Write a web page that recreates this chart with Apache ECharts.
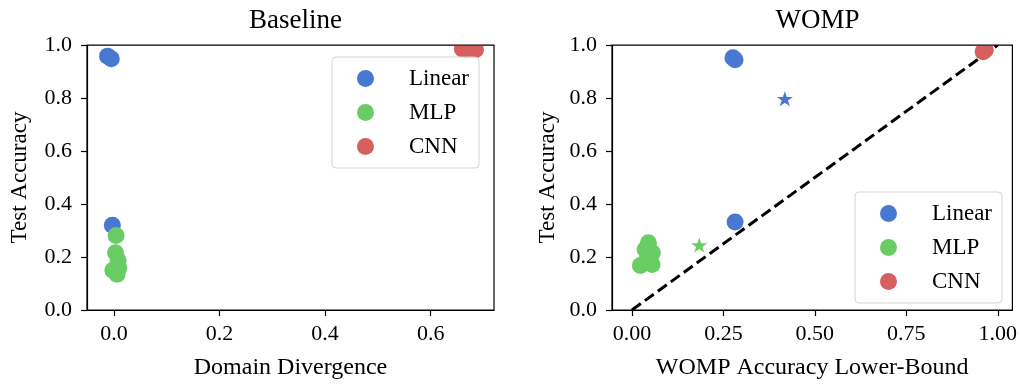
<!DOCTYPE html>
<html>
<head>
<meta charset="utf-8">
<script src="https://cdn.jsdelivr.net/npm/echarts@6/dist/echarts.min.js"></script>
<style>html,body{margin:0;padding:0;background:#fff}#c{width:1020px;height:385px}</style>
</head>
<body>
<div id="c"></div>
<script>
// ---- Data ----
const seriesNames = ['Linear', 'MLP', 'CNN'];
// Baseline panel: x = Domain Divergence, y = Test Accuracy
const baseLinearX = [-0.012, -0.005, -0.003];
const baseLinearY = [0.958, 0.948, 0.320];
const baseMlpX = [0.004, 0.003, 0.008, -0.002, 0.006, 0.009];
const baseMlpY = [0.281, 0.216, 0.187, 0.150, 0.135, 0.158];
const baseCnnX = [0.660, 0.668, 0.675, 0.680, 0.685];
const baseCnnY = [0.985, 0.980, 0.990, 0.985, 0.982];
// WOMP panel: x = WOMP Accuracy Lower-Bound, y = Test Accuracy
const wompLinearX = [0.276, 0.282, 0.282];
const wompLinearY = [0.952, 0.944, 0.332];
const wompLinearStarX = [0.418];
const wompLinearStarY = [0.797];
const wompMlpX = [0.045, 0.056, 0.023, 0.055, 0.042, 0.036];
const wompMlpY = [0.254, 0.216, 0.168, 0.172, 0.194, 0.228];
const wompMlpStarX = [0.184];
const wompMlpStarY = [0.245];
const wompCnnX = [0.960, 0.966];
const wompCnnY = [0.975, 0.981];
const diagX = [0, 1];
const diagY = [0, 1];
// Tick labels
const baseXTicks = [0, 0.2, 0.4, 0.6];
const wompXTicks = [0, 0.25, 0.5, 0.75, 1.0];

// ---- Styling ----
const FONT = 'Liberation Serif';
const colors = {Linear: '#4878d0', MLP: '#6acc64', CNN: '#d65f5f'};
const STAR = 'path://M50,0 L61.8,35.1 L98.9,35.1 L69.1,57 L80.9,91.9 L50,70.5 L19.1,91.9 L30.9,57 L1.1,35.1 L38.2,35.1 Z';
const zip = (xs, ys) => xs.map((x, i) => [x, ys[i]]);

const G1 = {left: 87, top: 45, width: 407, height: 268};
const G2 = {left: 612, top: 45, width: 401, height: 268};

function xAxisCfg(gi, min, max, ticks, dec, name) {
  return {
    type: 'value', gridIndex: gi, min: min, max: max,
    name: name, nameLocation: 'middle', nameGap: 46,
    nameTextStyle: {fontFamily: FONT, fontSize: 24, color: '#000'},
    axisLine: {show: true, onZero: false, lineStyle: {color: '#000', width: 1.2}},
    axisTick: {show: true, inside: false, length: 6, lineStyle: {color: '#000', width: 1.2}, customValues: ticks},
    axisLabel: {fontFamily: FONT, fontSize: 22, color: '#000', margin: 13, customValues: ticks,
      formatter: v => v.toFixed(dec)},
    splitLine: {show: false}
  };
}
function yAxisCfg(gi, gap) {
  return {
    type: 'value', gridIndex: gi, min: 0, max: 1, interval: 0.2,
    name: 'Test Accuracy', nameLocation: 'middle', nameGap: gap,
    nameTextStyle: {fontFamily: FONT, fontSize: 23, color: '#000'},
    axisLine: {show: true, onZero: false, lineStyle: {color: '#000', width: 1.2}},
    axisTick: {show: true, inside: false, length: 6, lineStyle: {color: '#000', width: 1.2}},
    axisLabel: {fontFamily: FONT, fontSize: 22, color: '#000', margin: 15, formatter: v => v.toFixed(1)},
    splitLine: {show: false}
  };
}
function scatter(name, xi, data, symbol, size) {
  return {
    type: 'scatter', name: name, xAxisIndex: xi, yAxisIndex: xi,
    data: data, symbol: symbol || 'circle', symbolSize: size || 17, symbolKeepAspect: true,
    itemStyle: {color: colors[name], opacity: 1}, clip: false, z: 2
  };
}
function legendCfg(left, top) {
  return {
    data: seriesNames, orient: 'vertical', left: left, top: top,
    icon: 'circle', itemWidth: 17, itemHeight: 17, itemGap: 11,
    padding: [10, 10, 10, 25],
    backgroundColor: 'rgba(255,255,255,0.8)', borderColor: '#d5d5d5', borderWidth: 1, borderRadius: 4,
    textStyle: {fontFamily: FONT, fontSize: 23, color: '#000', lineHeight: 20, padding: [0, 0, 0, 30]},
    selectedMode: false
  };
}

const option = {
  animation: false,
  backgroundColor: '#fff',
  title: [
    {text: 'Baseline', left: G1.left + G1.width / 2, textAlign: 'center', top: 2,
     textStyle: {fontFamily: FONT, fontSize: 27, fontWeight: 'normal', color: '#000'}},
    {text: 'WOMP', left: G2.left + G2.width / 2, textAlign: 'center', top: 2,
     textStyle: {fontFamily: FONT, fontSize: 27, fontWeight: 'normal', color: '#000'}}
  ],
  grid: [
    Object.assign({show: true, borderColor: '#000', borderWidth: 1.2, backgroundColor: 'transparent'}, G1),
    Object.assign({show: true, borderColor: '#000', borderWidth: 1.2, backgroundColor: 'transparent'}, G2)
  ],
  xAxis: [
    xAxisCfg(0, -0.051, 0.72, baseXTicks, 1, 'Domain Divergence'),
    xAxisCfg(1, -0.0545, 1.04, wompXTicks, 2, 'WOMP Accuracy Lower-Bound')
  ],
  yAxis: [yAxisCfg(0, 56), yAxisCfg(1, 53)],
  legend: [legendCfg(332, 57), legendCfg(855, 192)],
  graphic: [
    // mask marker parts above the plot frames (like axes clipping), then redraw top frame lines
    {type: 'rect', z: 3, silent: true, shape: {x: G1.left, y: 0, width: G1.width, height: G1.top}, style: {fill: '#fff'}},
    {type: 'rect', z: 3, silent: true, shape: {x: G2.left, y: 0, width: G2.width, height: G2.top}, style: {fill: '#fff'}},
    {type: 'line', z: 4, silent: true, shape: {x1: G1.left, y1: G1.top, x2: G1.left + G1.width, y2: G1.top}, style: {stroke: '#000', lineWidth: 1.2}},
    {type: 'line', z: 4, silent: true, shape: {x1: G2.left, y1: G2.top, x2: G2.left + G2.width, y2: G2.top}, style: {stroke: '#000', lineWidth: 1.2}}
  ],
  series: [
    scatter('Linear', 0, zip(baseLinearX, baseLinearY)),
    scatter('MLP', 0, zip(baseMlpX, baseMlpY)),
    scatter('CNN', 0, zip(baseCnnX, baseCnnY)),
    {type: 'line', name: 'diag', xAxisIndex: 1, yAxisIndex: 1, data: zip(diagX, diagY),
     symbol: 'none', lineStyle: {color: '#000', width: 3, type: [11, 5]}, z: 1, silent: true},
    scatter('Linear', 1, zip(wompLinearX, wompLinearY)),
    scatter('MLP', 1, zip(wompMlpX, wompMlpY)),
    scatter('CNN', 1, zip(wompCnnX, wompCnnY)),
    scatter('Linear', 1, zip(wompLinearStarX, wompLinearStarY), STAR, 16),
    scatter('MLP', 1, zip(wompMlpStarX, wompMlpStarY), STAR, 16)
  ]
};
const chart = echarts.init(document.getElementById('c'), null, {renderer: 'canvas'});
chart.setOption(option);
</script>
</body>
</html>
